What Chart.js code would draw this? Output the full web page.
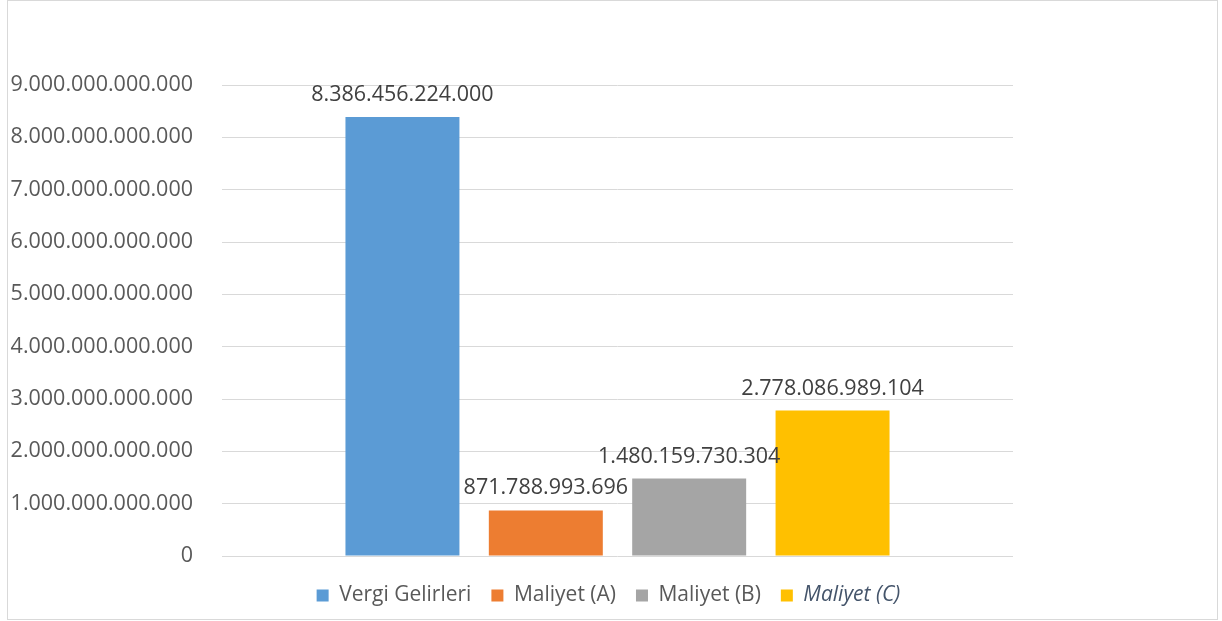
<!DOCTYPE html>
<html lang="tr">
<head>
<meta charset="utf-8">
<script src="https://cdn.jsdelivr.net/npm/chart.js@4.4.1/dist/chart.umd.min.js"></script>
<style>
    html, body { margin: 0; padding: 0; background: #ffffff; }
    .wrap { position: relative; width: 1222px; height: 621px; }
    .frame {
        position: absolute; left: 7px; top: 0; width: 1209px; height: 618px;
        border: 1px solid #d9d9d9; pointer-events: none;
    }
    canvas { position: absolute; left: 0; top: 0; }
</style>
</head>
<body>
<div class="wrap">
    <canvas id="chart" width="1222" height="621"></canvas>
    <div class="frame"></div>
</div>
<script>
// Chart data
const categories = [''];
const seriesNames = ['Vergi Gelirleri', 'Maliyet (A)', 'Maliyet (B)', 'Maliyet (C)'];
const seriesValues = [
    [8386456224000],
    [871788993696],
    [1480159730304],
    [2778086989104]
];
const seriesColors = ['#5b9bd5', '#ed7d31', '#a5a5a5', '#ffc000'];
const yTicks = [0, 1e12, 2e12, 3e12, 4e12, 5e12, 6e12, 7e12, 8e12, 9e12];

// Turkish style thousand separators (dots)
function formatTr(value) {
    return Math.round(value).toString().replace(/\B(?=(\d{3})+(?!\d))/g, '.');
}

const FONT = '"Open Sans", "Noto Sans", sans-serif';
const LEGEND_SIZE = 21;

// Draws the value above each bar
const valueLabels = {
    id: 'valueLabels',
    afterDatasetsDraw(chart) {
        const ctx = chart.ctx;
        ctx.save();
        ctx.font = '21.5px ' + FONT;
        ctx.fillStyle = '#404040';
        ctx.textAlign = 'center';
        ctx.textBaseline = 'alphabetic';
        chart.data.datasets.forEach((ds, i) => {
            const meta = chart.getDatasetMeta(i);
            meta.data.forEach((bar, j) => {
                ctx.fillText(formatTr(ds.data[j]), bar.x, bar.y - 16);
            });
        });
        ctx.restore();
    }
};

// Move legend so it sits centred like the original,
// and redraw the last entry in italics
const legendShift = {
    id: 'legendShift',
    dx: 0,
    beforeDraw(chart) {
        const lg = chart.legend;
        if (!lg) return;
        const dx = 611 - (lg.left + lg.right) / 2;
        lg.left += dx;
        lg.right += dx;
        this.dx = dx;
    },
    afterDraw(chart) {
        const lg = chart.legend;
        if (!lg || !lg.legendHitBoxes) return;
        const idx = 3;
        const hb = lg.legendHitBoxes[idx];
        const item = lg.legendItems[idx];
        const ctx = chart.ctx;
        const textX = hb.left + this.dx + 12 + LEGEND_SIZE / 2;
        const midY = hb.top + hb.height / 2;
        ctx.save();
        ctx.fillStyle = '#ffffff';
        ctx.fillRect(textX - 1, hb.top, hb.width - 12 - LEGEND_SIZE / 2 + 4, hb.height);
        ctx.font = 'italic ' + LEGEND_SIZE + 'px ' + FONT;
        ctx.fillStyle = item.fontColor;
        ctx.textAlign = 'left';
        ctx.textBaseline = 'middle';
        ctx.fillText(item.text, textX, midY);
        ctx.restore();
    }
};

const datasets = seriesNames.map((name, i) => ({
    label: name,
    data: seriesValues[i],
    backgroundColor: seriesColors[i],
    borderWidth: 0,
    categoryPercentage: 0.725,
    barPercentage: 0.795
}));

new Chart(document.getElementById('chart'), {
    type: 'bar',
    data: { labels: categories, datasets: datasets },
    plugins: [valueLabels, legendShift],
    options: {
        responsive: false,
        animation: false,
        events: [],
        layout: { padding: { left: 10, right: 209, top: 85, bottom: 5 } },
        plugins: {
            tooltip: { enabled: false },
            legend: {
                position: 'bottom',
                labels: {
                    boxWidth: 12,
                    boxHeight: 12,
                    padding: 20,
                    color: '#595959',
                    font: { family: FONT, size: LEGEND_SIZE },
                    generateLabels(chart) {
                        return chart.data.datasets.map((ds, i) => ({
                            text: ds.label,
                            fillStyle: ds.backgroundColor,
                            strokeStyle: ds.backgroundColor,
                            lineWidth: 0,
                            fontColor: i === 3 ? '#44546a' : '#595959',
                            datasetIndex: i,
                            hidden: false
                        }));
                    }
                }
            }
        },
        scales: {
            x: {
                display: true,
                grid: { display: false },
                border: { display: false },
                ticks: { display: false },
                afterFit(scale) { scale.height = 9; }
            },
            y: {
                min: 0,
                max: 9e12,
                afterBuildTicks(scale) {
                    scale.ticks = yTicks.map(v => ({ value: v }));
                },
                afterFit(scale) { scale.width = 212; },
                grid: { color: '#d9d9d9', lineWidth: 1, drawTicks: false },
                border: { display: false },
                ticks: {
                    padding: 29,
                    color: '#595959',
                    font: { family: FONT, size: 21.5 },
                    callback: value => formatTr(value)
                }
            }
        }
    }
});
</script>
</body>
</html>
